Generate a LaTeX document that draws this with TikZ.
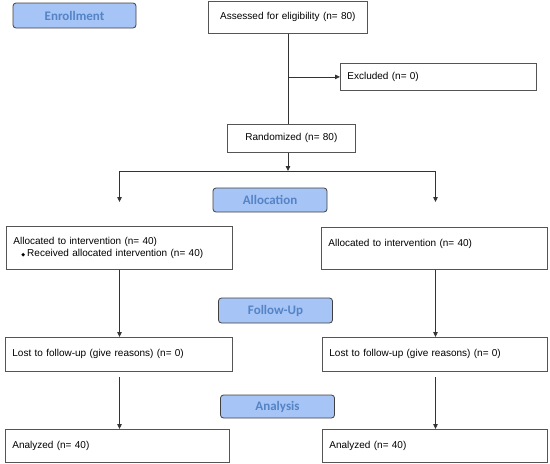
\documentclass[tikz,border=0pt]{standalone}
\usepackage{fontspec}
\setmainfont{Liberation Sans}
\newfontfamily\headfont{Carlito}
\newfontfamily\diafont{DejaVu Sans}
\usetikzlibrary{arrows.meta}
\definecolor{headfill}{RGB}{166,196,245}
\definecolor{headtext}{RGB}{84,132,198}
\definecolor{boxline}{RGB}{85,85,85}

\begin{document}
\begin{tikzpicture}[x=1pt, y=-1pt,
    flowbox/.style={draw=boxline, line width=0.8pt, fill=white, inner xsep=7pt, inner ysep=0pt,
        anchor=north west, align=left, font=\fontsize{10}{12}\selectfont},
    headbox/.style={draw=black!75, line width=0.8pt, fill=headfill, rounded corners=3pt, text=headtext,
        font=\headfont\bfseries\fontsize{13}{15}\selectfont, inner sep=0pt, minimum width=114pt, minimum height=24pt},
    link/.style={line width=0.8pt, black!80},
    arr/.style={link, -{Triangle[length=5pt, width=4.5pt]}}]
        \useasboundingbox (0,0) rectangle (550,464);

        \node[headbox, minimum width=123pt, minimum height=25pt] (enroll) at (74.5,15.5) {Enrollment};
        \node[flowbox, align=center, text width=145pt, minimum height=32pt] (assess) at (208,1) {Assessed for eligibility (n= 80)};
        \node[flowbox, text width=182pt, minimum height=27pt] (excl) at (340,63) {Excluded (n= 0)};
        \node[flowbox, align=center, text width=114pt, minimum height=28pt] (rand) at (227,124) {Randomized (n= 80)};

        \node[headbox] (alloc) at (270,200) {Allocation};
        \node[flowbox, text width=212pt, minimum height=43pt] (allocL) at (6,226) {Allocated to intervention (n= 40)\\ \hspace*{8pt}{\diafont\fontsize{5}{5}\selectfont ◆}\hspace{2pt}Received allocated intervention (n= 40)};
        \node[flowbox, text width=212pt, minimum height=42pt] (allocR) at (321,227) {Allocated to intervention (n= 40)\\ \mbox{}};

        \node[headbox, minimum height=25pt] (follow) at (275.5,310.5) {Follow-Up};
        \node[flowbox, text width=213pt, minimum height=34pt] (lostL) at (5,337) {Lost to follow-up (give reasons) (n= 0)};
        \node[flowbox, text width=211pt, minimum height=34pt] (lostR) at (322,337) {Lost to follow-up (give reasons) (n= 0)};

        \node[headbox, minimum height=23pt] (analysis) at (277.5,406.5) {Analysis};
        \node[flowbox, text width=210pt, minimum height=33pt] (anaL) at (5,429) {Analyzed (n= 40)};
        \node[flowbox, text width=211pt, minimum height=33pt] (anaR) at (322,429) {Analyzed (n= 40)};

        \coordinate (split) at (288,171);
        \coordinate (splitL) at (119.5,171);
        \coordinate (splitR) at (435.5,171);
        \coordinate (dropL) at (119.5,202);
        \coordinate (dropR) at (435.5,202);
        \coordinate (tailL) at (119.5,377);
        \coordinate (tailR) at (435.5,377);

        \draw[link] (assess.south -| split) -- (rand.north -| split);
        \draw[arr] (split |- excl.west) -- (excl.west);
        \draw[arr] (rand.south -| split) -- (split);
        \draw[link] (splitL) -- (splitR);
        \draw[arr] (splitL) -- (dropL);
        \draw[arr] (splitR) -- (dropR);
        \draw[arr] (allocL.south -| splitL) -- (lostL.north -| splitL);
        \draw[arr] (allocR.south -| splitR) -- (lostR.north -| splitR);
        \draw[arr] (tailL) -- (anaL.north -| tailL);
        \draw[arr] (tailR) -- (anaR.north -| tailR);
    \end{tikzpicture}
\end{document}
